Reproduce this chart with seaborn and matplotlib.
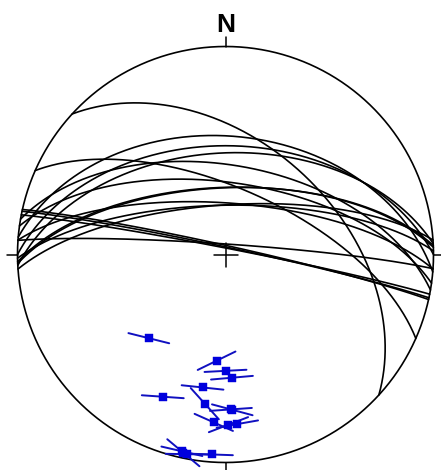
import numpy as np
import pandas as pd
import matplotlib
matplotlib.use("Agg")
import matplotlib.pyplot as plt
import seaborn as sns

# Measured planes: dip direction / dip (degrees), lower-hemisphere data
dip_direction = [42.5, 4.8, 0.0, 357.0, 9.8, 23.8, 7.9, 358.0, 357.5,
                 4.0, 359.0, 356.0, 12.0, 12.5, 11.0, 3.9]
dip = [45.4, 42.5, 46.6, 49.6, 54.6, 63.8, 61.6, 63.6, 63.8,
       69.8, 70.7, 70.6, 87.1, 86.5, 87.5, 85.9]
# Striation trend drawn across each pole symbol (azimuth, degrees)
striae_trend = [104, 64, 87, 85, 96, 94, 138, 86, 105,
                114, 69, 80, 130, 103, 91, 92]

BLUE = "#0000dd"
BAR_BLUE = "#1010c0"


def schmidt(trend, plunge):
    """Equal-area (Schmidt) lower-hemisphere projection, unit radius."""
    t = np.radians(trend)
    r = np.sqrt(2.0) * np.sin(np.radians(90.0 - np.asarray(plunge)) / 2.0)
    return r * np.sin(t), r * np.cos(t)


def great_circle(dd, dp, n=241):
    th = np.radians(np.linspace(0.0, 180.0, n))
    d = np.radians(dp)
    plunge = np.degrees(np.arcsin(np.sin(th) * np.sin(d)))
    trend = (dd - 90.0) + np.degrees(np.arctan2(np.sin(th) * np.cos(d), np.cos(th)))
    return schmidt(trend, plunge)


# Great-circle table
rows = []
for i, (dd, dp) in enumerate(zip(dip_direction, dip)):
    x, y = great_circle(dd, dp)
    rows.append(pd.DataFrame({"x": x, "y": y, "plane": i}))
circles = pd.concat(rows, ignore_index=True)

# Poles to planes
pole_x, pole_y = schmidt(np.array(dip_direction) + 180.0, 90.0 - np.array(dip))
poles = pd.DataFrame({"x": pole_x, "y": pole_y})

# Striation bars centred on the poles
half = 21.0 / 208.0
bars = []
for i, (px, py, tr) in enumerate(zip(pole_x, pole_y, striae_trend)):
    dx, dy = half * np.sin(np.radians(tr)), half * np.cos(np.radians(tr))
    bars.append(pd.DataFrame({"x": [px - dx, px + dx], "y": [py - dy, py + dy], "pole": i}))
bars = pd.concat(bars, ignore_index=True)

sns.set_style("white")
fig = plt.figure(figsize=(4.41, 4.70), dpi=100)
ax = fig.add_axes([0, 0, 1, 1])
ax.axis("off")

# Primitive circle
phi = np.linspace(0, 2 * np.pi, 721)
ax.plot(np.cos(phi), np.sin(phi), color="black", lw=1.2, solid_capstyle="butt")

# Cardinal ticks and centre cross
tick = 10.0 / 208.0
ax.plot([0, 0], [1, 1 + tick], color="black", lw=1.1)
ax.plot([0, 0], [-1, -1 - tick], color="black", lw=1.1)
ax.plot([-1 - 11.0 / 208.0, -1], [0, 0], color="black", lw=1.1)
ax.plot([1, 1 + tick], [0, 0], color="black", lw=1.1)
c = 12.0 / 208.0
ax.plot([-c, c], [0, 0], color="black", lw=1.1)
ax.plot([0, 0], [-c, c], color="black", lw=1.1)

# Planes as great circles
sns.lineplot(data=circles, x="x", y="y", units="plane", estimator=None, sort=False,
             color="black", lw=1.2, ax=ax, legend=False)

# Poles with striation bars
sns.lineplot(data=bars, x="x", y="y", units="pole", estimator=None, sort=False,
             color=BAR_BLUE, lw=1.4, ax=ax, legend=False)
sns.scatterplot(data=poles, x="x", y="y", marker="s", s=36, color=BLUE,
                edgecolor=BLUE, linewidth=0.3, ax=ax, legend=False, zorder=5)

ax.text(0, (254.0 - 24.0) / 208.0, "N", ha="center", va="center", color="black",
        fontsize=19, fontweight="bold", family=["Liberation Sans", "DejaVu Sans"])

ax.set_xlim(-225.5 / 208.0, 215.5 / 208.0)
ax.set_ylim(-215.5 / 208.0, 254.5 / 208.0)
ax.axis("off")
fig.savefig("out.png", dpi=100, facecolor="white")
